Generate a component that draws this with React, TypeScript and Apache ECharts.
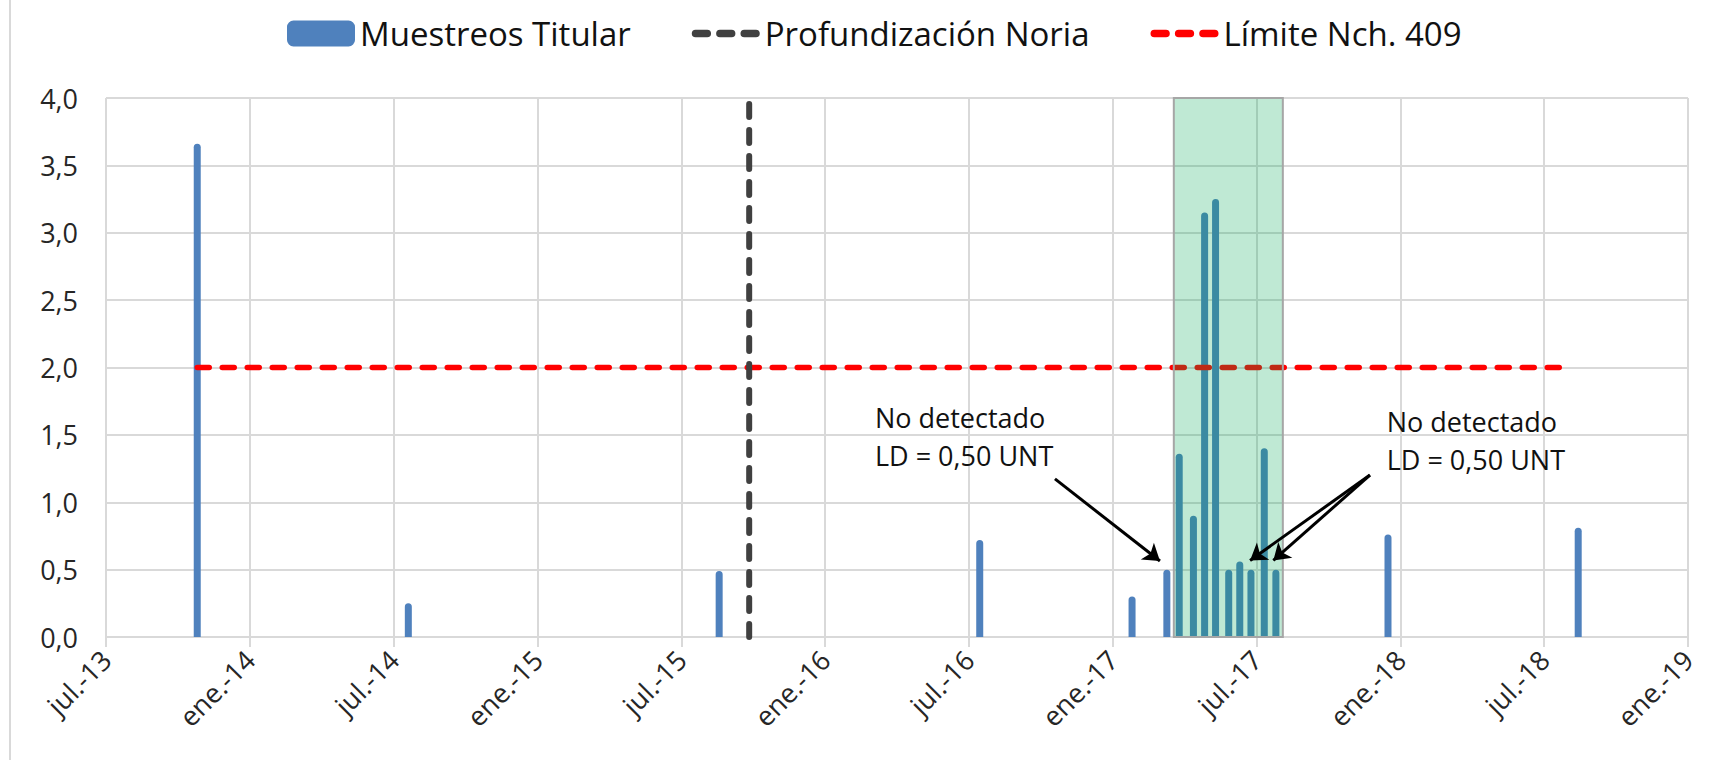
import React, { useEffect, useRef } from 'react';
import * as echarts from 'echarts';

// ---- data ----
const xTickLabels = ['jul.-13', 'ene.-14', 'jul.-14', 'ene.-15', 'jul.-15', 'ene.-16', 'jul.-16', 'ene.-17', 'jul.-17', 'ene.-18', 'jul.-18', 'ene.-19'];
const sampleDates = ['2013-10-26', '2014-07-20', '2015-08-19', '2016-07-15', '2017-01-26', '2017-03-09', '2017-03-25', '2017-04-12', '2017-04-26', '2017-05-10', '2017-05-27', '2017-06-10', '2017-06-24', '2017-07-11', '2017-07-26', '2017-12-16', '2018-08-14'];
const sampleValues = [3.66, 0.25, 0.49, 0.72, 0.30, 0.50, 1.36, 0.90, 3.15, 3.25, 0.50, 0.56, 0.50, 1.40, 0.50, 0.76, 0.81];
const limitDates = ['2013-10-26', '2018-08-05'];
const limitValue = 2.0;
const noriaDate = '2015-09-26';
const highlightRange = ['2017-03-18', '2017-08-04'];
const annotationLines = ['No detectado', 'LD = 0,50 UNT'];
// annotation anchors in data units [month index, value]
const annotationTexts = [[32.08, 1.49], [53.43, 1.455]];
const annotationArrows = [
  [[39.59, 1.173], [43.97, 0.564]],
  [[52.73, 1.202], [47.73, 0.568]],
  [[52.73, 1.202], [48.70, 0.568]],
];

const FONT = '"Open Sans", "Noto Sans", sans-serif';

function dashPill(x: number): string {
  return `M${x + 3.75},0 h11.5 a3.75,3.75 0 0 1 0,7.5 h-11.5 a3.75,3.75 0 0 1 0,-7.5 z`;
}
const DASH_ICON = 'path://' + [0, 24, 48].map(dashPill).join(' ');

function monthIndex(s: string): number {
  const [y, m, d] = s.split('-').map(Number);
  const dim = new Date(Date.UTC(y, m, 0)).getUTCDate();
  return (y - 2013) * 12 + (m - 7) + (d - 1) / dim;
}

export default function App() {
  const ref = useRef<HTMLDivElement>(null);
  useEffect(() => {
    if (!ref.current) return;
    const chart = echarts.init(ref.current, undefined, { renderer: 'svg' });
    const grid = '#d9d9d9';
    const option: any = {
      animation: false,
      backgroundColor: '#ffffff',
      legend: {
        data: [
          { name: 'Muestreos Titular', icon: 'roundRect', itemStyle: { color: '#4f81bd' } },
          { name: 'Profundización Noria', icon: DASH_ICON, itemStyle: { color: '#404040' } },
          { name: 'Límite Nch. 409', icon: DASH_ICON, itemStyle: { color: '#ff0000' } },
        ],
        left: 282,
        top: 12,
        itemWidth: 68,
        itemHeight: 26,
        itemGap: 61,
        textStyle: { fontFamily: FONT, fontSize: 33, color: '#111' },
      },
      grid: { left: 106, right: 28, top: 98, bottom: 136, containLabel: false },
      xAxis: {
        type: 'value',
        min: 0,
        max: 66,
        interval: 6,
        axisLine: { show: true, onZero: true, lineStyle: { color: grid, width: 2 } },
        axisTick: { show: true, length: 10, lineStyle: { color: grid, width: 2 } },
        splitLine: { show: true, lineStyle: { color: grid, width: 2 } },
        axisLabel: {
          rotate: 45,
          margin: 18,
          fontFamily: FONT,
          fontSize: 27,
          color: '#262626',
          formatter: (v: number) => xTickLabels[Math.round(v / 6)] ?? '',
        },
      },
      yAxis: {
        type: 'value',
        min: 0,
        max: 4,
        interval: 0.5,
        axisLine: { show: false },
        axisTick: { show: false },
        splitLine: { show: true, lineStyle: { color: grid, width: 2 } },
        axisLabel: {
          margin: 28,
          fontFamily: FONT,
          fontSize: 27,
          color: '#262626',
          formatter: (v: number) => v.toFixed(1).replace('.', ','),
        },
      },
      series: [
        {
          name: 'Muestreos Titular',
          type: 'bar',
          barWidth: 7,
          z: 2,
          itemStyle: { color: '#4f81bd', borderRadius: [3.5, 3.5, 0, 0] },
          data: sampleDates.map((d, i) => [monthIndex(d), sampleValues[i]]),
        },
        {
          name: 'Límite Nch. 409',
          type: 'line',
          symbol: 'none',
          z: 3,
          lineStyle: { color: '#ff0000', width: 5.5, type: [12, 13], cap: 'round' },
          itemStyle: { color: '#ff0000' },
          data: limitDates.map((d) => [monthIndex(d), limitValue]),
        },
        {
          name: 'zona',
          type: 'line',
          symbol: 'none',
          z: 4,
          silent: true,
          data: [],
          markArea: {
            silent: true,
            z: 5,
            itemStyle: { color: 'rgba(0,168,84,0.25)', borderColor: '#a6a6a6', borderWidth: 2 },
            data: [[{ xAxis: monthIndex(highlightRange[0]), yAxis: 0 }, { xAxis: monthIndex(highlightRange[1]), yAxis: 4 }]],
          },
        },
        {
          name: 'Profundización Noria',
          type: 'line',
          symbol: 'none',
          z: 6,
          lineStyle: { color: '#404040', width: 6, type: [13, 13], cap: 'round' },
          itemStyle: { color: '#404040' },
          data: [[monthIndex(noriaDate), 0], [monthIndex(noriaDate), 4]],
        },
        {
          name: 'flechas',
          type: 'line',
          symbol: 'none',
          z: 7,
          silent: true,
          data: [],
          markLine: {
            silent: true,
            z: 7,
            symbol: ['none', 'arrow'],
            symbolSize: 16,
            label: { show: false },
            lineStyle: { color: '#000', width: 3, type: 'solid' },
            data: annotationArrows.map(([a, b]) => [{ coord: a }, { coord: b }]),
          },
        },
      ],
    };
    chart.setOption(option);
    const texts = annotationTexts.map(([m, v]) => {
      const [px, py] = chart.convertToPixel({ gridIndex: 0 }, [m, v]) as number[];
      return {
        type: 'text',
        x: px,
        y: py,
        style: {
          text: annotationLines.join('\n'),
          fontFamily: FONT,
          fontSize: 27,
          lineHeight: 38,
          fill: '#111',
          align: 'left',
          verticalAlign: 'middle',
        },
        z: 10,
      };
    });
    chart.setOption({
      graphic: [
        { type: 'line', shape: { x1: 10, y1: 0, x2: 10, y2: 760 }, style: { stroke: '#d9d9d9', lineWidth: 2 } },
        ...texts,
      ],
    });
    return () => chart.dispose();
  }, []);
  return <div ref={ref} style={{ position: 'fixed', left: 0, top: 0, width: 1716, height: 773 }} />;
}
